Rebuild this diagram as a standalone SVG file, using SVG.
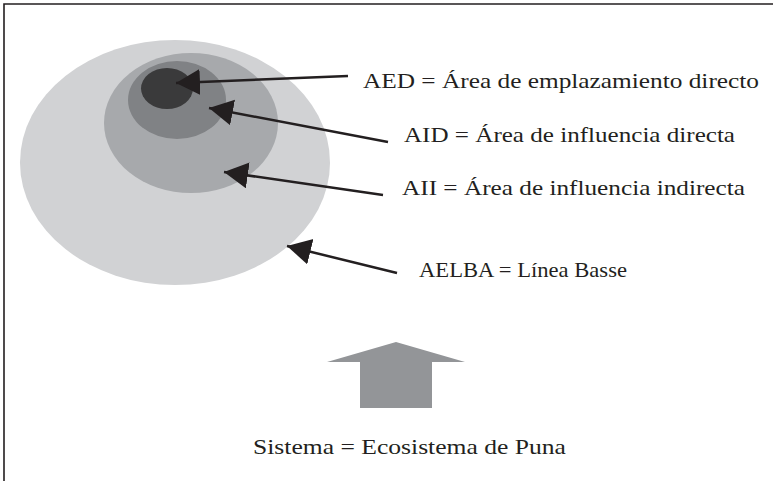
<svg xmlns="http://www.w3.org/2000/svg" width="773" height="481" viewBox="0 0 773 481">
<style>
.lbl{font-family:"Liberation Serif","Times New Roman",serif;font-size:21px;fill:#231f20}
.conn{stroke:#231f20;stroke-width:2.5;fill:none}
</style>
<defs>
<marker id="ah" markerUnits="userSpaceOnUse" markerWidth="26" markerHeight="28" refX="24" refY="13" orient="auto" viewBox="0 0 26 28">
<path d="M0,0 L24,13 L0,26 Z" fill="#231f20"/>
</marker>
</defs>
<rect width="773" height="481" fill="#ffffff"/>
<path d="M4,481 V4 H773" fill="none" stroke="#231f20" stroke-width="1.6"/>
<g id="aelba"><ellipse cx="175" cy="162.5" rx="155" ry="122.5" fill="#d1d2d4"/></g>
<g id="aii"><ellipse cx="191" cy="123" rx="87" ry="70" fill="#a7a9ac"/></g>
<g id="aid"><ellipse cx="177" cy="100" rx="49" ry="39" fill="#808285"/></g>
<g id="aed"><ellipse cx="167" cy="88.5" rx="26" ry="20.5" fill="#3a3a3b"/></g>
<g id="connectors">
<line class="conn" x1="348" y1="76" x2="176" y2="83" marker-end="url(#ah)"/>
<line class="conn" x1="388" y1="142" x2="209" y2="108" marker-end="url(#ah)"/>
<line class="conn" x1="383" y1="195" x2="224" y2="172" marker-end="url(#ah)"/>
<line class="conn" x1="397" y1="273" x2="287" y2="246" marker-end="url(#ah)"/>
</g>
<g id="label-aed"><text class="lbl" x="363" y="88" textLength="396" lengthAdjust="spacingAndGlyphs">AED = Área de emplazamiento directo</text></g>
<g id="label-aid"><text class="lbl" x="404" y="142" textLength="331" lengthAdjust="spacingAndGlyphs">AID = Área de influencia directa</text></g>
<g id="label-aii"><text class="lbl" x="402" y="195" textLength="343" lengthAdjust="spacingAndGlyphs">AII = Área de influencia indirecta</text></g>
<g id="label-aelba"><text class="lbl" x="419" y="277" textLength="208" lengthAdjust="spacingAndGlyphs">AELBA = Línea Basse</text></g>
<g id="sistema">
<path d="M396,342 L465,362 L432,362 L432,408 L360,408 L360,362 L327,362 Z" fill="#939598"/>
<text class="lbl" x="253" y="454" textLength="313" lengthAdjust="spacingAndGlyphs">Sistema = Ecosistema de Puna</text>
</g>
</svg>
